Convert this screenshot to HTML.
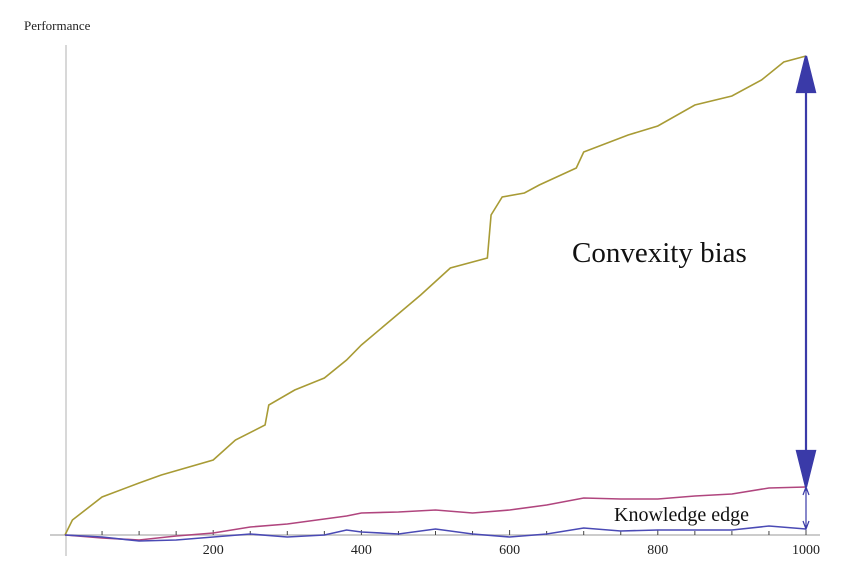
<!DOCTYPE html>
<html><head><meta charset="utf-8"><style>
body{margin:0;background:#fff}
svg{display:block;font-family:"Liberation Serif",serif}
</style></head><body>
<svg id="c" width="850" height="581">
<text x="24" y="30" font-size="13" fill="#222">Performance</text>
<line x1="66" y1="45" x2="66" y2="556" stroke="#ccc" stroke-width="1.5"/>
<line x1="50" y1="535" x2="820" y2="535" stroke="#bbb" stroke-width="1.5"/>
<g id="ticks"></g>
<g id="series"></g>
<g id="ann"></g>
<text x="572" y="262" font-size="29" fill="#111">Convexity bias</text>
<text x="614" y="521" font-size="20" fill="#111">Knowledge edge</text>
</svg>
<script>
const tVals=[0,10,50,100,130,200,230,270,275,310,350,380,400,440,480,520,570,575,590,620,640,690,700,760,800,850,900,940,970,1000];
const goldPx=[535,520,497,483,475,460,440,425,405,390,378,360,345,320,295,268,258,215,197,193,185,168,152,135,126,105,96,80,62,56];
const tSmall=[0,50,100,150,200,250,300,350,380,400,450,500,550,600,650,700,750,800,850,900,950,1000];
const pinkPx=[535,538,540,536,533,527,524,519,516,513,512,510,513,510,505,498,499,499,496,494,488,487];
const bluePx=[535,537,541,540,537,534,537,535,530,532,534,529,534,537,534,528,531,530,530,530,526,529];
const ticks=[200,400,600,800,1000];
const goldV=goldPx.map(p=>(535-p)/4.8),pinkV=pinkPx.map(p=>(535-p)/4.8),blueV=bluePx.map(p=>(535-p)/4.8);
const X=t=>65+t*0.741, Y=v=>535-v*4.8;
const NS="http://www.w3.org/2000/svg";
function mk(tag,a,par){const e=document.createElementNS(NS,tag);for(const k in a)e.setAttribute(k,a[k]);document.getElementById(par).appendChild(e);return e;}
for(let t=50;t<=1000;t+=50){
  const l=mk('line',{x1:X(t),x2:X(t),y1:535,y2:t%200?531:530,stroke:'#444','stroke-width':1},'ticks');
  
  
}
ticks.forEach(t=>{const e=mk('text',{x:X(t),y:554,'font-size':14,'text-anchor':'middle',fill:'#222'},'ticks');e.textContent=t;
  
  });
function stepPath(ts,vs){let d='M'+X(ts[0])+' '+Y(vs[0]);for(let i=1;i<ts.length;i++){d+=' L'+X(ts[i])+' '+Y(vs[i-1])+' L'+X(ts[i])+' '+Y(vs[i]);}return d;}
function linePath(ts,vs){return ts.map((t,i)=>(i?'L':'M')+X(t)+' '+Y(vs[i])).join(' ');}
let p=mk('path',{d:linePath(tVals,goldV),fill:'none',stroke:'#a89b35','stroke-width':1.6},'series');


p=mk('path',{d:linePath(tSmall,pinkV),fill:'none',stroke:'#b0457e','stroke-width':1.6},'series');


p=mk('path',{d:linePath(tSmall,blueV),fill:'none',stroke:'#4a4ab5','stroke-width':1.6},'series');


// annotation arrows
const ax=X(1000), yTop=Y(goldV[goldV.length-1]), yMid=Y(pinkV[pinkV.length-1]), yBot=Y(blueV[blueV.length-1]);
let a=mk('path',{d:`M${ax} ${yTop+30} L${ax} ${yMid-30} M${ax-9} ${yTop+36} L${ax} ${yTop} L${ax+9} ${yTop+36} Z M${ax-9} ${yMid-36} L${ax} ${yMid} L${ax+9} ${yMid-36} Z`,stroke:'#3a3aa8','stroke-width':2.2,fill:'#3a3aa8'},'ann');


a=mk('path',{d:`M${ax} ${yMid} L${ax} ${yBot} M${ax-3} ${yMid+8} L${ax} ${yMid} L${ax+3} ${yMid+8} M${ax-3} ${yBot-8} L${ax} ${yBot} L${ax+3} ${yBot-8}`,stroke:'#3a3aa8','stroke-width':1.2,fill:'none'},'ann');


</script>
</body></html>
